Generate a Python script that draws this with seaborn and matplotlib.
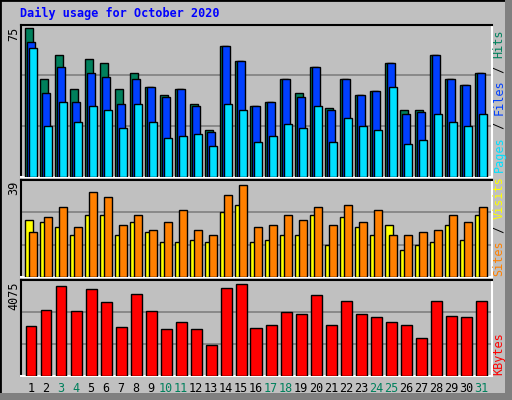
import matplotlib
matplotlib.use("Agg")
import matplotlib.pyplot as plt
import seaborn as sns
import numpy as np
import pandas as pd
from matplotlib.patches import Rectangle

days = list(range(1, 32))
weekend_days = [3, 4, 10, 11, 17, 18, 24, 25, 31]

hits = [73, 48, 60, 43, 58, 56, 43, 51, 44, 40, 43, 36, 23, 64, 57, 35,
        37, 48, 41, 54, 34, 48, 40, 42, 56, 33, 33, 60, 48, 45, 51]
files = [66, 41, 54, 37, 51, 49, 36, 48, 44, 39, 43, 35, 22, 64, 57, 35,
         37, 48, 39, 54, 33, 48, 40, 42, 56, 31, 32, 60, 48, 45, 51]
pages = [63, 25, 37, 27, 35, 33, 24, 36, 27, 19, 20, 21, 15, 36, 33, 17,
         20, 26, 24, 35, 17, 29, 25, 23, 44, 16, 18, 31, 27, 25, 31]
sites = [23, 22, 20, 17, 25, 25, 17, 22, 18, 14, 14, 15, 14, 26, 29, 14,
         15, 17, 17, 25, 13, 24, 20, 17, 21, 11, 13, 14, 21, 15, 25]
visits = [18, 24, 28, 20, 34, 32, 21, 25, 19, 22, 27, 19, 17, 33, 37, 20,
          21, 25, 23, 28, 21, 29, 22, 27, 17, 17, 18, 19, 25, 22, 28]
kbytes = [2109, 2793, 3819, 2750, 3691, 3135, 2066, 3477, 2750, 1981, 2280,
          1981, 1297, 3734, 3904, 2024, 2152, 2708, 2622, 3434, 2152, 3178,
          2622, 2494, 2280, 2152, 1596, 3178, 2537, 2494, 3178]

sns.set_theme(style="white")
plt.rcParams["font.family"] = ["DejaVu Sans Mono", "DejaVu Sans"]

BG = "#C0C0C0"
GRID = "#808080"
W, H = 512, 400
fig = plt.figure(figsize=(W / 100, H / 100), dpi=100, facecolor=BG)
fig.patches.append(Rectangle((0, 0), 1, 1, transform=fig.transFigure,
                             fill=False, edgecolor="black", linewidth=2))
fig.patches.append(Rectangle((505 / W, 0), 7 / W, 1, transform=fig.transFigure,
                             facecolor="#808080", edgecolor="none"))
fig.patches.append(Rectangle((0, 0), 1, 7 / H, transform=fig.transFigure,
                             facecolor="#808080", edgecolor="none"))

left, right = 21, 492
xmin = 1 - 4 / 15
xmax = xmin + (right - left) / 15


def make_axes(top, bottom, ymax, grid_vals):
    ax = fig.add_axes([left / W, 1 - bottom / H, (right - left) / W, (bottom - top) / H])
    ax.set_facecolor(BG)
    ax.set_xlim(xmin, xmax)
    ax.set_ylim(0, ymax)
    for g in grid_vals:
        ax.axhline(g, color=GRID, linewidth=1.2, zorder=0)
    ax.set_xticks([])
    ax.set_yticks([])
    for s in ["top", "left"]:
        ax.spines[s].set_color("black")
        ax.spines[s].set_linewidth(1.5)
    for s in ["bottom", "right"]:
        ax.spines[s].set_color("white")
        ax.spines[s].set_linewidth(1.5)
    return ax


x = np.array(days, dtype=float)
bw = 8 / 15
edge = dict(edgecolor="black", linewidth=1, align="edge", zorder=3)

ax1 = make_axes(25, 177, 74.5, [25, 50])
ax1.bar(x, hits, bw, color="#00805C", **edge)
ax1.bar(x + 2 / 15, files, bw, color="#0040FF", **edge)
ax1.bar(x + 4 / 15, pages, bw, color="#00E0FF", **edge)

ax2 = make_axes(180, 277, 39, [13, 26])
ax2.bar(x, sites, bw, color="#FFFF00", **edge)
ax2.bar(x + 4 / 15, visits, bw, color="#FF8000", **edge)

ax3 = make_axes(280, 376, 4075, [4075 / 3, 2 * 4075 / 3])
df = pd.DataFrame({"day": x + 0.4, "kbytes": kbytes})
sns.barplot(data=df, x="day", y="kbytes", native_scale=True, width=11 / 15,
            color="#FF0000", saturation=1, edgecolor="black", linewidth=1,
            ax=ax3, zorder=3)
ax3.set_xlim(xmin, xmax)
ax3.set_xlabel("")
ax3.set_ylabel("")
ax3.set_xticks([])
ax3.set_yticks([])

fs = 8.5
fig.text(20 / W, 1 - 13 / H, "Daily usage for October 2020", color="#0000FF",
         fontsize=fs, fontweight="bold", va="center", ha="left")

for label, ytop in [("75", 27), ("39", 181), ("4075", 281)]:
    fig.text(14 / W, 1 - ytop / H, label, rotation=90, fontsize=fs,
             ha="center", va="top", color="black")

for d in days:
    px = left + (d + 0.4 - xmin) * 15
    fig.text(px / W, 1 - 389 / H, str(d), fontsize=fs, ha="center", va="center",
             color="#00805C" if d in weekend_days else "black")

char = 7.1


def side_label(pieces, ybottom):
    y = ybottom
    for txt, col in pieces:
        fig.text(499 / W, 1 - y / H, txt, rotation=90, fontsize=fs, color=col,
                 ha="center", va="bottom")
        y -= len(txt) * char


side_label([("Pages", "#00E0FF"), (" / ", "black"), ("Files", "#0040FF"),
            (" / ", "black"), ("Hits", "#00805C")], 172)
side_label([("Sites", "#FF8000"), (" / ", "black"), ("Visits", "#FFFF00")], 276)
side_label([("KBytes", "#FF0000")], 375)

fig.savefig("out.png", dpi=100, facecolor=BG)
